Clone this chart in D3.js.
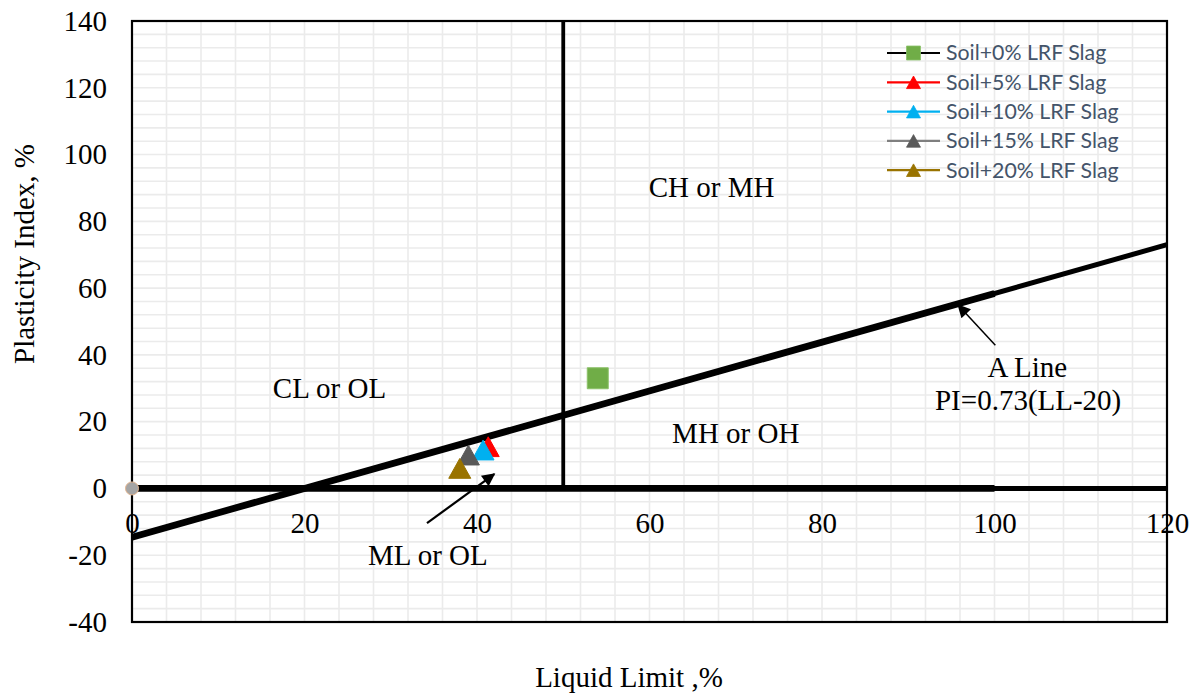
<!DOCTYPE html>
<html>
<head>
<meta charset="utf-8">
<script src="https://cdn.jsdelivr.net/npm/d3@7"></script>
<style>
  body { margin: 0; background: #ffffff; }
  svg { display: block; }
</style>
</head>
<body>
<svg id="chart" width="1197" height="695"></svg>
<script>
// ---- Test series: liquid limit (LL, %) and plasticity index (PI, %) ----
const seriesNames = [
  "Soil+0% LRF Slag",
  "Soil+5% LRF Slag",
  "Soil+10% LRF Slag",
  "Soil+15% LRF Slag",
  "Soil+20% LRF Slag"
];
const liquidLimit     = [54.0, 41.3, 40.7, 39.0, 38.0];
const plasticityIndex = [33.0, 12.5, 11.5, 10.0, 6.0];
const markerShapes    = ["square", "triangle", "triangle", "triangle", "triangle"];

// ---- Reference lines of the plasticity chart ----
// A-line: PI = 0.73(LL - 20)
const aLineLL = [0, 120];
const aLinePI = [-14.6, 73.0];
const aLineLLShort = [0, 100];
const aLinePIShort = [-14.6, 58.4];
// PI = 0 baseline
const zeroLineLL = [0, 120];
const zeroLinePI = [0, 0];
const zeroLineLLShort = [0, 100];
const zeroLinePIShort = [0, 0];
// LL = 50 divider between low and high plasticity
const dividerLL = [50, 50];
const dividerPI = [0, 140];
// origin point
const originLL = [0];
const originPI = [0];

// ---- Axis ticks ----
const xTicks = [0, 20, 40, 60, 80, 100, 120];
const yTicks = [-40, -20, 0, 20, 40, 60, 80, 100, 120, 140];

// ---- Zone labels and callouts ----
const zoneLabels = ["CH or MH", "CL or OL", "MH or OH", "ML or OL", "A Line", "PI=0.73(LL-20)"];

// ---- Styling ----
const markerColors     = ["#70AD47", "#FF0000", "#00B0F0", "#595959", "#997300"];
const legendLineColors = ["#000000", "#FF0000", "#00B0F0", "#7F7F7F", "#997300"];
const serif = "'Liberation Serif', 'Times New Roman', serif";

const margin = { left: 132, top: 21, right: 30, bottom: 73 };
const W = 1197, H = 695;
const innerW = W - margin.left - margin.right;   // 1035
const innerH = H - margin.top - margin.bottom;   // 601

const svg = d3.select("#chart");
const g = svg.append("g").attr("transform", `translate(${margin.left},${margin.top})`);

const x = d3.scaleLinear().domain([0, 120]).range([0, innerW]);
const y = d3.scaleLinear().domain([-40, 140]).range([innerH, 0]);

// minor gridlines every 4 units
const gridX = d3.range(0, 121, 4);
const gridY = d3.range(-40, 141, 4);
g.append("g").selectAll("line").data(gridX).join("line")
  .attr("x1", d => x(d)).attr("x2", d => x(d))
  .attr("y1", 0).attr("y2", innerH)
  .attr("stroke", "#EBEBEB").attr("stroke-width", 1.6);
g.append("g").selectAll("line").data(gridY).join("line")
  .attr("x1", 0).attr("x2", innerW)
  .attr("y1", d => y(d)).attr("y2", d => y(d))
  .attr("stroke", "#EBEBEB").attr("stroke-width", 1.6);

// plot frame
g.append("rect")
  .attr("x", 0).attr("y", 0).attr("width", innerW).attr("height", innerH)
  .attr("fill", "none").attr("stroke", "#000").attr("stroke-width", 2.2);

// axes (labels only; x labels sit under the PI = 0 line)
const plain = d => String(d);
const xAxis = d3.axisBottom(x).tickValues(xTicks).tickSize(0).tickPadding(24).tickFormat(plain);
const yAxis = d3.axisLeft(y).tickValues(yTicks).tickSize(0).tickPadding(25).tickFormat(plain);

const gx = g.append("g").attr("transform", `translate(0,${y(0)})`).call(xAxis);
const gy = g.append("g").call(yAxis);
[gx, gy].forEach(a => {
  a.select(".domain").remove();
  a.selectAll("text").attr("font-family", serif).attr("font-size", 29).attr("fill", "#000");
});

// reference lines
const line = d3.line().x(d => x(d[0])).y(d => y(d[1]));
function drawLine(lls, pis, width) {
  g.append("path")
    .datum(d3.zip(lls, pis))
    .attr("d", line)
    .attr("fill", "none")
    .attr("stroke", "#000")
    .attr("stroke-width", width);
}
drawLine(zeroLineLL, zeroLinePI, 5);
drawLine(zeroLineLLShort, zeroLinePIShort, 6.8);
drawLine(aLineLL, aLinePI, 5);
drawLine(aLineLLShort, aLinePIShort, 6.8);
drawLine(dividerLL, dividerPI, 3.8);

// origin point
g.append("g").selectAll("circle").data(d3.zip(originLL, originPI)).join("circle")
  .attr("cx", d => x(d[0])).attr("cy", d => y(d[1])).attr("r", 6.5)
  .attr("fill", "#A5A5A5").attr("stroke", "#E2B48F").attr("stroke-width", 1);

// marker shapes, centred on their bounding box
function markerPath(shape, s) {
  const h = s / 2;
  if (shape === "square") return `M${-h},${-h}H${h}V${h}H${-h}Z`;
  const th = s * 0.9 / 2;
  return `M0,${-th}L${h},${th}L${-h},${th}Z`;
}

// data points
g.append("g").selectAll("path")
  .data(d3.range(seriesNames.length))
  .join("path")
  .attr("transform", i => `translate(${x(liquidLimit[i])},${y(plasticityIndex[i])})`)
  .attr("d", i => markerPath(markerShapes[i], markerShapes[i] === "square" ? 21 : 22))
  .attr("fill", i => markerColors[i])
  .attr("stroke", i => i === 0 ? "#8CC26A" : markerColors[i])
  .attr("stroke-width", 1);

// zone labels and callout text (anchors in data units)
const labelLL = [67.2, 22.9, 70.0, 34.3, 103.8, 103.9];
const labelPI = [87.3, 27.2, 13.6, -22.9, 33.4, 23.5];
g.append("g").selectAll("text")
  .data(zoneLabels)
  .join("text")
  .attr("x", (d, i) => x(labelLL[i]))
  .attr("y", (d, i) => y(labelPI[i]))
  .attr("text-anchor", "middle")
  .attr("font-family", serif)
  .attr("font-size", 29)
  .attr("fill", "#000")
  .text(d => d);

// callout arrows
svg.append("defs").append("marker")
  .attr("id", "arrowHead")
  .attr("viewBox", "0 0 10 10")
  .attr("refX", 9).attr("refY", 5)
  .attr("markerUnits", "userSpaceOnUse")
  .attr("markerWidth", 16).attr("markerHeight", 13)
  .attr("orient", "auto")
  .append("path").attr("d", "M0,0L10,5L0,10Z").attr("fill", "#000");

const arrowFromLL = [100.1, 34.2];
const arrowFromPI = [42.9, -10.4];
const arrowToLL   = [95.8, 42.0];
const arrowToPI   = [54.9, 4.3];
g.append("g").selectAll("line")
  .data(d3.range(arrowFromLL.length))
  .join("line")
  .attr("x1", i => x(arrowFromLL[i])).attr("y1", i => y(arrowFromPI[i]))
  .attr("x2", i => x(arrowToLL[i])).attr("y2", i => y(arrowToPI[i]))
  .attr("stroke", "#000")
  .attr("stroke-width", i => i === 0 ? 1.5 : 2.2)
  .attr("marker-end", "url(#arrowHead)");

// axis titles
svg.append("text")
  .attr("transform", `translate(34,254) rotate(-90)`)
  .attr("text-anchor", "middle")
  .attr("font-family", serif).attr("font-size", 29).attr("fill", "#000")
  .text("Plasticity Index, %");
svg.append("text")
  .attr("x", 629).attr("y", 687)
  .attr("text-anchor", "middle")
  .attr("font-family", serif).attr("font-size", 29).attr("fill", "#000")
  .text("Liquid Limit ,%");

// legend
const legend = svg.append("g").attr("transform", "translate(887,53)");
const rows = legend.selectAll("g")
  .data(d3.range(seriesNames.length))
  .join("g")
  .attr("transform", i => `translate(0,${i * 29.3})`);
rows.append("line")
  .attr("x1", 0).attr("x2", 53).attr("y1", 0).attr("y2", 0)
  .attr("stroke", i => legendLineColors[i]).attr("stroke-width", 2.2);
rows.append("path")
  .attr("transform", "translate(26.5,0)")
  .attr("d", i => markerPath(markerShapes[i], 14))
  .attr("fill", i => markerColors[i])
  .attr("stroke", i => i === 0 ? "#8CC26A" : markerColors[i])
  .attr("stroke-width", 0.8);
rows.append("text")
  .attr("x", 59).attr("y", 0).attr("dy", "0.35em")
  .attr("font-family", "Lato, 'Liberation Sans', sans-serif")
  .attr("font-size", 21.3)
  .attr("fill", "#44546A")
  .text(i => seriesNames[i]);
</script>
</body>
</html>
